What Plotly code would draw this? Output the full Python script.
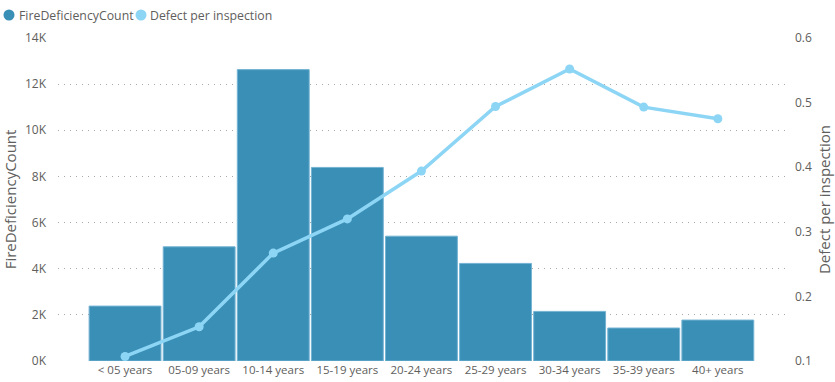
import plotly.graph_objects as go

categories = ["< 05 years", "05-09 years", "10-14 years", "15-19 years", "20-24 years",
              "25-29 years", "30-34 years", "35-39 years", "40+ years"]
fire_deficiency_count = [2380, 4950, 12630, 8390, 5410, 4230, 2150, 1430, 1775]
defect_per_inspection = [0.107, 0.153, 0.267, 0.320, 0.394, 0.494, 0.552, 0.493, 0.475]
left_tick_vals = [0, 2000, 4000, 6000, 8000, 10000, 12000, 14000]
left_tick_text = ["0K", "2K", "4K", "6K", "8K", "10K", "12K", "14K"]
right_tick_vals = [0.1, 0.2, 0.3, 0.4, 0.5, 0.6]
right_tick_text = ["0.1", "0.2", "0.3", "0.4", "0.5", "0.6"]
series_names = ["FireDeficiencyCount", "Defect per inspection"]

BAR = "#3A8FB7"
LINE = "#8DD5F5"
TXT = "#605E5C"
FONT = "Open Sans, Noto Sans, sans-serif"

W, H = 835, 382
ML, MR, MT, MB = 58, 49, 38, 21
PW = W - ML - MR
PH = H - MT - MB

def px_x(p):
    return (p - ML) / PW

def px_y(p):
    return (H - MB - p) / PH

fig = go.Figure()
fig.add_trace(go.Bar(
    x=categories, y=fire_deficiency_count, name=series_names[0],
    marker=dict(color=BAR, line=dict(color="#74B3D3", width=1)),
    showlegend=False, yaxis="y",
))
fig.add_trace(go.Scatter(
    x=categories, y=defect_per_inspection, name=series_names[1],
    mode="lines+markers", line=dict(color=LINE, width=3.5),
    marker=dict(color=LINE, size=9), showlegend=False, yaxis="y2",
))

# legend (manual, to match compact layout)
legend_items = [(9, 17, BAR, series_names[0]), (141, 148, LINE, series_names[1])]
for cx, tx, col, name in legend_items:
    fig.add_shape(type="circle", xref="paper", yref="paper",
                  xsizemode="pixel", ysizemode="pixel",
                  xanchor=px_x(cx), yanchor=px_y(15),
                  x0=-5.5, x1=5.5, y0=-5.5, y1=5.5,
                  fillcolor=col, line=dict(width=0))
    fig.add_annotation(text=name, xref="paper", yref="paper", x=px_x(tx), y=px_y(15),
                       xanchor="left", yanchor="middle", showarrow=False,
                       font=dict(size=12.3, color=TXT))

fig.update_layout(
    width=W, height=H,
    margin=dict(l=ML, r=MR, t=MT, b=MB, autoexpand=False),
    paper_bgcolor="white", plot_bgcolor="white",
    font=dict(family=FONT, size=12, color=TXT),
    bargap=0.03,
    showlegend=False,
    xaxis=dict(type="category", range=[-0.905, 8.92], showgrid=False, zeroline=False,
               showline=False, ticks="", automargin=False, tickfont=dict(size=11.5, color=TXT)),
    yaxis=dict(range=[0, 14000], tickvals=left_tick_vals, ticktext=left_tick_text,
               showgrid=True, gridcolor="#A8A8A8", griddash="1px,5px", gridwidth=1.2,
               zeroline=False, showline=False, ticklabelstandoff=11, automargin=False,
               tickfont=dict(size=12, color=TXT), layer="below traces",
               title=dict(text=series_names[0], font=dict(size=15, color=TXT), standoff=10)),
    yaxis2=dict(range=[0.1, 0.6], tickvals=right_tick_vals, ticktext=right_tick_text,
                overlaying="y", side="right", showgrid=False, zeroline=False, showline=False,
                ticklabelstandoff=8, automargin=False, tickfont=dict(size=12, color=TXT),
                title=dict(text=series_names[1], font=dict(size=15, color=TXT), standoff=8)),
)

fig.write_html("out.html", config={"displayModeBar": False},
               post_script="document.body.style.margin='0';document.body.style.overflow='hidden';")
